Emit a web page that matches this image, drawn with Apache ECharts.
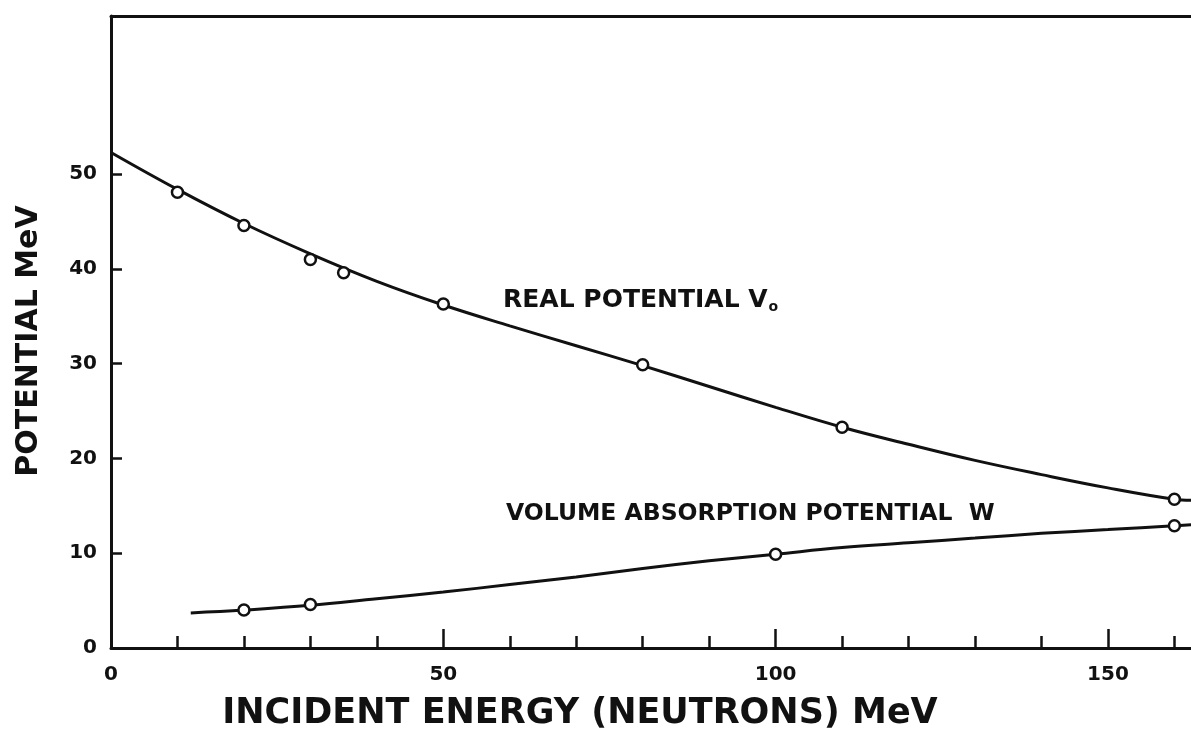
<!DOCTYPE html>
<html>
<head>
<meta charset="utf-8">
<script src="https://cdn.jsdelivr.net/npm/echarts@6/dist/echarts.min.js"></script>
<style>
  html, body { margin: 0; padding: 0; background: #fff; }
  #main { width: 1191px; height: 748px; }
</style>
</head>
<body>
<div id="main"></div>
<script>
// real potential V0: fitted curve and measured points (MeV vs MeV)
const realCurve = [
  [0, 52.3], [10, 48.4], [20, 44.8], [30, 41.6], [40, 38.7], [50, 36.2],
  [60, 34.0], [70, 31.9], [80, 29.8], [90, 27.6], [100, 25.4], [110, 23.3],
  [120, 21.5], [130, 19.8], [140, 18.3], [150, 16.9], [160, 15.7], [162.5, 15.6]
];
const realPoints = [
  [10, 48.1], [20, 44.6], [30, 41.0], [35, 39.6], [50, 36.3],
  [80, 29.9], [110, 23.3], [160, 15.7]
];
// volume absorption potential W
const absCurve = [
  [12, 3.7], [20, 4.0], [30, 4.5], [40, 5.2], [50, 5.9], [60, 6.7],
  [70, 7.5], [80, 8.4], [90, 9.2], [100, 9.9], [110, 10.6], [120, 11.1],
  [130, 11.6], [140, 12.1], [150, 12.5], [160, 12.9], [162.5, 13.0]
];
const absPoints = [[20, 4.0], [30, 4.6], [100, 9.9], [160, 12.9]];

const xTicks = [10, 20, 30, 40, 50, 60, 70, 80, 90, 100, 110, 120, 130, 140, 150, 160];
const xMajor = [50, 100, 150];
const xLabels = [0, 50, 100, 150];
const yTicks = [10, 20, 30, 40, 50];
const yLabels = [0, 10, 20, 30, 40, 50];

const FONT = 'DejaVu Sans';
const INK = '#111';

const chart = echarts.init(document.getElementById('main'), null, { renderer: 'canvas' });

const markerStyle = { color: '#fff', borderColor: INK, borderWidth: 2.5, opacity: 1 };

chart.setOption({
  animation: false,
  backgroundColor: '#fff',
  grid: { left: 111, right: 0, top: 16, bottom: 100, outerBoundsMode: 'none', containLabel: false },
  xAxis: [{
    type: 'value',
    min: 0, max: 162.5,
    position: 'bottom',
    splitLine: { show: false },
    axisLine: { lineStyle: { color: INK, width: 3 } },
    axisTick: { inside: true, length: 12, customValues: xTicks, lineStyle: { color: INK, width: 2.5 } },
    axisLabel: { customValues: xLabels, margin: 17, color: INK, fontFamily: FONT, fontWeight: 'bold', fontSize: 20 },
    name: 'INCIDENT ENERGY (NEUTRONS) MeV',
    nameLocation: 'middle',
    nameGap: 48,
    nameTextStyle: { color: INK, fontFamily: FONT, fontWeight: 'bold', fontSize: 35, padding: [0, 142, 0, 0] }
  }, {
    // longer ticks at every 50
    type: 'value',
    min: 0, max: 162.5,
    position: 'bottom',
    splitLine: { show: false },
    axisLine: { show: false },
    axisTick: { inside: true, length: 19, customValues: xMajor, lineStyle: { color: INK, width: 2.5 } },
    axisLabel: { show: false }
  }, {
    // top frame line
    type: 'value',
    min: 0, max: 162.5,
    position: 'top',
    splitLine: { show: false },
    axisLine: { lineStyle: { color: INK, width: 3 } },
    axisTick: { show: false },
    axisLabel: { show: false }
  }],
  yAxis: {
    type: 'value',
    min: 0, max: 66.7,
    splitLine: { show: false },
    axisLine: { lineStyle: { color: INK, width: 3 } },
    axisTick: { inside: true, length: 11, customValues: yTicks, lineStyle: { color: INK, width: 2.5 } },
    axisLabel: { customValues: yLabels, margin: 14, color: INK, fontFamily: FONT, fontWeight: 'bold', fontSize: 20 },
    name: 'POTENTIAL MeV',
    nameLocation: 'middle',
    nameGap: 67,
    nameTextStyle: { color: INK, fontFamily: FONT, fontWeight: 'bold', fontSize: 30, padding: [0, 18, 0, 0] }
  },
  series: [{
    name: 'V0 curve',
    type: 'line',
    data: realCurve,
    smooth: 0.4,
    showSymbol: false,
    lineStyle: { color: INK, width: 3 },
    z: 2
  }, {
    name: 'V0',
    type: 'scatter',
    data: realPoints,
    symbol: 'circle',
    symbolSize: 11,
    itemStyle: markerStyle,
    z: 3
  }, {
    name: 'W curve',
    type: 'line',
    data: absCurve,
    smooth: 0.4,
    showSymbol: false,
    lineStyle: { color: INK, width: 3 },
    z: 2
  }, {
    name: 'W',
    type: 'scatter',
    data: absPoints,
    symbol: 'circle',
    symbolSize: 11,
    itemStyle: markerStyle,
    z: 3
  }],
  graphic: [{
    type: 'text',
    left: 503, top: 288,
    style: {
      text: 'REAL POTENTIAL V{sub|o}',
      fill: INK, font: 'bold 25px "DejaVu Sans"',
      rich: { sub: { fontSize: 14, fontWeight: 'bold', fontFamily: FONT, fill: INK, padding: [14, 0, 0, 1] } }
    }
  }, {
    type: 'text',
    left: 506, top: 502,
    style: {
      text: 'VOLUME ABSORPTION POTENTIAL  W',
      fill: INK, font: 'bold 23.5px "DejaVu Sans"'
    }
  }]
});
</script>
</body>
</html>
